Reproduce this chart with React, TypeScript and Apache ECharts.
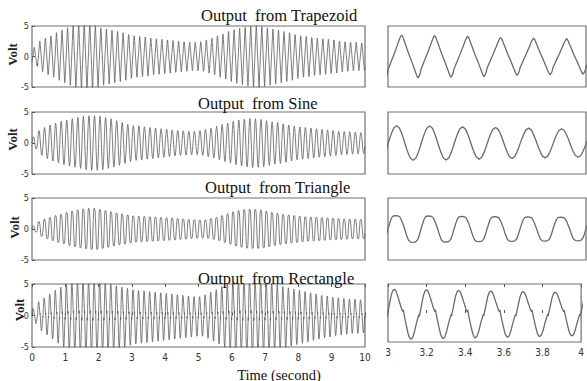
import React, { useEffect, useRef } from 'react';
import * as echarts from 'echarts';

const TITLES = ['Output  from Trapezoid', 'Output  from Sine', 'Output  from Triangle', 'Output  from Rectangle'];
const X_TITLE = 'Time (second)';
const Y_TITLE = 'Volt';
const CYCLES_PER_SECOND = 6;

// peak amplitude of every cycle (60 cycles over 10 s)
const TRAPEZOID_AMPS = [
  1.5, 2.6, 3.1, 3.5, 3.9, 4.3,
  4.7, 5.1, 5.4, 5.5, 5.4, 5.1,
  4.7, 4.5, 4.3, 4.1, 3.9, 3.7,
  3.5, 3.4, 3.3, 3.1, 3.0, 2.9,
  2.8, 2.7, 2.6, 2.5, 2.4, 2.4,
  2.5, 2.8, 3.1, 3.5, 3.8, 4.1,
  4.4, 4.6, 4.8, 5.0, 5.1, 4.9,
  4.7, 4.5, 4.3, 4.1, 3.9, 3.7,
  3.5, 3.4, 3.2, 3.1, 3.0, 2.9,
  2.8, 2.6, 2.5, 2.4, 2.4, 2.3,
];
const SINE_AMPS = [
  1.0, 2.0, 2.5, 2.9, 3.2, 3.5,
  3.7, 3.9, 4.1, 4.3, 4.4, 4.4,
  4.3, 4.1, 3.9, 3.6, 3.3, 3.0,
  2.8, 2.75, 2.6, 2.5, 2.4, 2.3,
  2.2, 2.1, 2.0, 1.95, 1.9, 1.9,
  2.0, 2.2, 2.4, 2.7, 3.0, 3.2,
  3.5, 3.7, 3.85, 3.95, 3.9, 3.8,
  3.6, 3.4, 3.3, 3.1, 2.9, 2.7,
  2.6, 2.5, 2.4, 2.3, 2.2, 2.1,
  2.0, 1.9, 1.85, 1.8, 1.75, 1.7,
];
const TRIANGLE_AMPS = [
  0.5, 1.2, 1.6, 1.9, 2.2, 2.4,
  2.7, 2.9, 3.1, 3.25, 3.35, 3.35,
  3.2, 3.0, 2.8, 2.6, 2.45, 2.3,
  2.15, 2.1, 2.05, 2.0, 1.95, 1.9,
  1.85, 1.8, 1.7, 1.65, 1.55, 1.5,
  1.45, 1.5, 1.7, 1.9, 2.2, 2.5,
  2.8, 3.0, 3.15, 3.2, 3.2, 3.1,
  2.9, 2.7, 2.55, 2.4, 2.3, 2.2,
  2.1, 2.0, 1.95, 1.9, 1.85, 1.8,
  1.75, 1.7, 1.65, 1.6, 1.6, 1.55,
];
const RECTANGLE_AMPS = [
  1.2, 2.2, 2.8, 3.4, 4.0, 4.5,
  4.9, 5.2, 5.4, 5.5, 5.5, 5.5,
  5.4, 5.2, 5.0, 4.7, 4.5, 4.3,
  4.1, 4.0, 3.9, 3.8, 3.7, 3.6,
  3.5, 3.4, 3.3, 3.2, 3.1, 3.0,
  3.0, 3.3, 3.7, 4.1, 4.6, 5.0,
  5.3, 5.5, 5.6, 5.6, 5.5, 5.4,
  5.3, 5.1, 4.9, 4.6, 4.4, 4.2,
  4.0, 3.8, 3.6, 3.4, 3.2, 3.1,
  2.9, 2.8, 2.7, 2.6, 2.6, 2.5,
];

// one cycle of each output's shape [phase, relative value]
const TRAPEZOID_SHAPE = [
  [0, -0.62], [0.05, -0.42], [0.1, -0.22], [0.2, 0.18], [0.28, 0.52], [0.33, 0.74], [0.37, 0.9],
  [0.395, 0.97], [0.41, 1], [0.425, 0.98], [0.45, 0.92], [0.49, 0.74], [0.55, 0.48], [0.62, 0.16],
  [0.72, -0.24], [0.79, -0.54], [0.84, -0.76], [0.875, -0.9], [0.895, -0.97], [0.91, -1],
  [0.925, -0.98], [0.95, -0.9], [0.98, -0.76],
];
const SINE_SHAPE = [
  [0, -0.06], [0.06, 0.31], [0.12, 0.63], [0.18, 0.88], [0.26, 1], [0.34, 0.88], [0.4, 0.63],
  [0.46, 0.31], [0.51, 0], [0.56, -0.31], [0.62, -0.63], [0.68, -0.88], [0.76, -1],
  [0.84, -0.88], [0.9, -0.63], [0.96, -0.31],
];
const TRIANGLE_SHAPE = [
  [0, 0.0], [0.05, 0.4], [0.1, 0.8], [0.15, 0.96], [0.22, 1.0], [0.3, 0.98], [0.36, 0.9],
  [0.42, 0.6], [0.5, 0.05], [0.56, -0.45], [0.62, -0.85], [0.68, -0.98], [0.76, -1.0],
  [0.84, -0.96], [0.9, -0.8], [0.95, -0.45],
];
const RECTANGLE_SHAPE = [
  [0, 0.05], [0.02, 0.18], [0.05, 0.4], [0.1, 0.75], [0.15, 0.95], [0.2, 1.0], [0.25, 0.92],
  [0.3, 0.72], [0.36, 0.45], [0.42, 0.18], [0.46, 0.06], [0.475, 0.14], [0.49, 0.02],
  [0.52, -0.2], [0.58, -0.6], [0.64, -0.95], [0.7, -1.1], [0.76, -1.05], [0.82, -0.8],
  [0.88, -0.45], [0.93, -0.2], [0.96, -0.06], [0.975, -0.14], [0.99, -0.02],
];

const ROWS = [
  { amps: TRAPEZOID_AMPS, shape: TRAPEZOID_SHAPE },
  { amps: SINE_AMPS, shape: SINE_SHAPE },
  { amps: TRIANGLE_AMPS, shape: TRIANGLE_SHAPE },
  { amps: RECTANGLE_AMPS, shape: RECTANGLE_SHAPE },
];

const buildSeries = (amps: number[], shape: number[][]) => {
  const out: number[][] = [];
  amps.forEach((a, k) => {
    shape.forEach(([p, v]) => out.push([(k + p) / CYCLES_PER_SECOND, a * v]));
  });
  return out;
};

const SERIF = "'Liberation Serif','Times New Roman',serif";
const NARROW = "'Liberation Sans Narrow','DejaVu Sans Condensed','Arial Narrow',sans-serif";

const TOPS = [26, 112, 198, 284];
const HEIGHTS = [61, 62, 62, 63];
const RIGHT_HEIGHTS = [61, 62, 62, 58];
const TITLE_POS = [[201, 15.5], [198, 103.5], [205, 187.5], [198, 278.5]];
const VOLT_POS = [[12, 54.5], [12, 139.5], [14.5, 227.5], [19, 310]];

export default function App() {
  const ref = useRef<HTMLDivElement>(null);
  useEffect(() => {
    if (!ref.current) return;
    const chart = echarts.init(ref.current, undefined, { renderer: 'svg' });
    const grid: any[] = [];
    const xAxis: any[] = [];
    const yAxis: any[] = [];
    const series: any[] = [];
    const border = { show: true, borderColor: '#707070', borderWidth: 1.2, backgroundColor: 'transparent' };
    ROWS.forEach((row, i) => {
      const last = i === 3;
      grid.push({ left: 32, top: TOPS[i], width: 333, height: HEIGHTS[i], ...border });
      grid.push({ left: 388, top: TOPS[i], width: 198, height: RIGHT_HEIGHTS[i], ...border });
      xAxis.push({
        type: 'value', gridIndex: 2 * i, min: 0, max: 10, interval: 1,
        axisLine: { show: false }, splitLine: { show: false },
        axisTick: { show: last, inside: true, length: 3, lineStyle: { color: '#555' } },
        axisLabel: { show: last, fontFamily: NARROW, fontSize: 10, color: '#333', margin: 5 },
      });
      xAxis.push({
        type: 'value', gridIndex: 2 * i + 1, min: 3, max: 4, interval: 0.2,
        axisLine: { show: false }, splitLine: { show: false },
        axisTick: { show: last, inside: true, length: 3, lineStyle: { color: '#555' } },
        axisLabel: {
          show: last, fontFamily: NARROW, fontSize: 10, color: '#333', margin: 5,
          formatter: (v: number) => String(Math.round(v * 10) / 10),
        },
      });
      yAxis.push({
        type: 'value', gridIndex: 2 * i, min: -5, max: 5, interval: 5,
        axisLine: { show: false }, splitLine: { show: false },
        axisTick: { show: true, inside: true, length: 3, lineStyle: { color: '#555' } },
        axisLabel: { fontFamily: NARROW, fontSize: 9, color: '#333', margin: 3 },
      });
      yAxis.push({
        type: 'value', gridIndex: 2 * i + 1, min: -5, max: 5, interval: 5,
        axisLine: { show: false }, splitLine: { show: false },
        axisTick: { show: false }, axisLabel: { show: false },
      });
      const data = buildSeries(row.amps, row.shape);
      series.push({
        type: 'line', xAxisIndex: 2 * i, yAxisIndex: 2 * i, data, showSymbol: false, symbol: 'none',
        lineStyle: { color: '#5e5e5e', width: 0.8 }, silent: true, clip: true,
      });
      series.push({
        type: 'line', xAxisIndex: 2 * i + 1, yAxisIndex: 2 * i + 1, data, showSymbol: false, symbol: 'none',
        lineStyle: { color: '#6a6a6a', width: 1.3 }, silent: true, clip: true,
      });
    });
    // top ticks of the bottom row
    xAxis.push({
      type: 'value', gridIndex: 6, position: 'top', min: 0, max: 10, interval: 1,
      axisLine: { show: false }, splitLine: { show: false },
      axisTick: { show: true, inside: true, length: 3, lineStyle: { color: '#555' } }, axisLabel: { show: false },
    });
    xAxis.push({
      type: 'value', gridIndex: 7, position: 'top', min: 3, max: 4, interval: 0.2,
      axisLine: { show: false }, splitLine: { show: false },
      axisTick: { show: true, inside: true, length: 3, lineStyle: { color: '#555' } }, axisLabel: { show: false },
    });

    const graphic: any[] = [];
    TITLES.forEach((t, i) => {
      graphic.push({
        type: 'text', x: TITLE_POS[i][0], y: TITLE_POS[i][1], silent: true,
        style: { text: t, font: `16.5px ${SERIF}`, fill: '#111', textAlign: 'left', textVerticalAlign: 'middle' },
      });
      graphic.push({
        type: 'text', x: VOLT_POS[i][0], y: VOLT_POS[i][1], rotation: Math.PI / 2, silent: true,
        style: { text: Y_TITLE, font: `bold 13px ${SERIF}`, fill: '#222', textAlign: 'center', textVerticalAlign: 'middle' },
      });
    });
    graphic.push({
      type: 'text', x: 279, y: 374.5, silent: true,
      style: { text: X_TITLE, font: `14.5px ${SERIF}`, fill: '#111', textAlign: 'center', textVerticalAlign: 'middle' },
    });

    chart.setOption({ animation: false, backgroundColor: '#fff', grid, xAxis, yAxis, series, graphic });
    return () => chart.dispose();
  }, []);
  return <div ref={ref} style={{ position: 'fixed', left: 0, top: 0, width: 587, height: 381 }} />;
}
